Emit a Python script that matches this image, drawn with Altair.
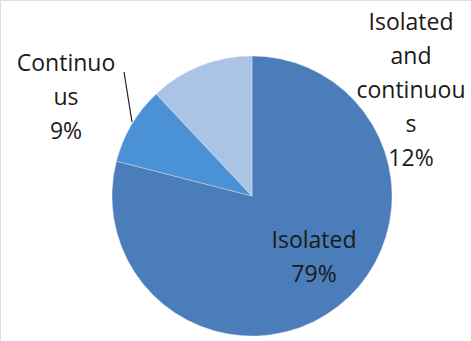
import altair as alt
import pandas as pd

categories = ["Isolated", "Continuous", "Isolated and continuous"]
values = [79, 9, 12]
label_lines = [["Isolated", "79%"], ["Continuo", "us", "9%"], ["Isolated", "and", "continuou", "s", "12%"]]
colors = ["#4a7db9", "#4b91d6", "#abc4e5"]

df = pd.DataFrame({"cat": categories, "val": values, "ord": [0, 1, 2]})

CX, CY, R = 252, 196, 140

pie = alt.Chart(df).mark_arc(radius=R, stroke="#dfe8f3", strokeWidth=0.4).encode(
    theta=alt.Theta("val:Q", stack=True),
    order=alt.Order("ord:Q"),
    color=alt.Color("cat:N", scale=alt.Scale(domain=categories, range=colors), legend=None),
    x=alt.value(CX),
    y=alt.value(CY),
)

label_pos = [(314, 241), (66, 64), (411, 23)]
FONT = "Open Sans"
FS = 23
layers = [pie]
for lines, (lx, ly) in zip(label_lines, label_pos):
    t = alt.Chart(pd.DataFrame({"t": [lines]})).mark_text(
        font=FONT, fontSize=FS, lineHeight=34, align="center", baseline="middle", color="#1a1a1a"
    ).encode(text="t", x=alt.value(lx), y=alt.value(ly))
    layers.append(t)

leader = alt.Chart(pd.DataFrame({"a": [0]})).mark_rule(color="#222222", strokeWidth=1.2).encode(
    x=alt.value(124), y=alt.value(72), x2=alt.value(132), y2=alt.value(122)
)
layers.append(leader)

chart = alt.layer(*layers).properties(
    width=471, height=341, padding=0, autosize=alt.AutoSizeParams(type="none")
).configure_view(stroke=None).configure(background="white")

chart.save("out.html", embed_options={"renderer": "svg", "actions": False})
